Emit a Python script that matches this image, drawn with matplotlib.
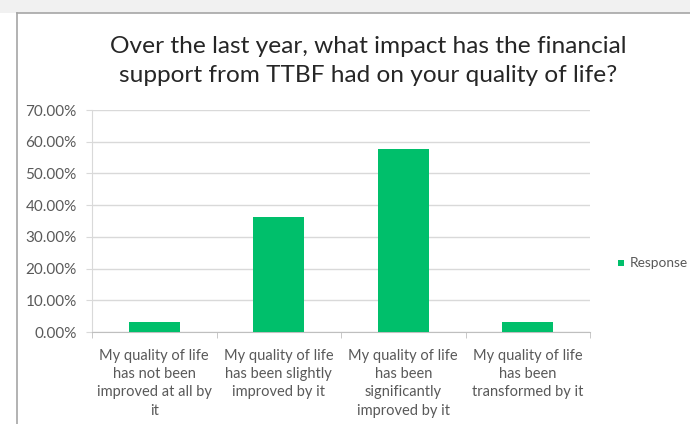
import numpy as np
import matplotlib.pyplot as plt
from matplotlib.patches import Rectangle
from matplotlib.lines import Line2D
from matplotlib.ticker import FuncFormatter, FixedLocator

plt.rcParams['font.family'] = ['Lato', 'DejaVu Sans']

# data
categories = [
    "My quality of life\nhas not been\nimproved at all by\nit",
    "My quality of life\nhas been slightly\nimproved by it",
    "My quality of life\nhas been\nsignificantly\nimproved by it",
    "My quality of life\nhas been\ntransformed by it",
]
responses = [3.03, 36.36, 57.58, 3.03]
series_name = "Response"
title = "Over the last year, what impact has the financial\nsupport from TTBF had on your quality of life?"

green = '#00bf6b'
text_col = '#595959'
grid_col = '#d9d9d9'

W, H = 690, 424
fig = plt.figure(figsize=(W / 100, H / 100), dpi=100)
fig.patch.set_facecolor('white')

# screenshot frame: grey strip on top, chart border
fig.add_artist(Rectangle((0, 1 - 13 / H), 1, 13 / H, transform=fig.transFigure,
                         facecolor='#f1f1f1', edgecolor='none'))
fig.add_artist(Line2D([17 / W, 1], [1 - 13 / H, 1 - 13 / H], transform=fig.transFigure,
                      color='#a6a6a6', lw=1.2))
fig.add_artist(Line2D([17 / W, 17 / W], [0, 1 - 13 / H], transform=fig.transFigure,
                      color='#a6a6a6', lw=1.2))

ax = fig.add_axes([92 / W, 1 - 332 / H, (590 - 92) / W, (332 - 110) / H])
x = np.arange(len(categories))
ax.bar(x, responses, width=0.41, color=green, zorder=3)

ax.set_xlim(-0.5, len(categories) - 0.5)
ax.set_ylim(0, 70)
ax.set_yticks(np.arange(0, 71, 10))
ax.yaxis.set_major_formatter(FuncFormatter(lambda v, p: f"{v:.2f}%"))
ax.grid(axis='y', color=grid_col, lw=1, zorder=0)

ax.set_xticks(x)
ax.set_xticklabels(categories, fontsize=10.5, color=text_col, linespacing=1.4)
ax.xaxis.set_minor_locator(FixedLocator(np.arange(-0.5, len(categories), 1)))
ax.tick_params(axis='x', which='major', length=0, pad=12)
ax.tick_params(axis='x', which='minor', length=4, color='#bfbfbf')
ax.tick_params(axis='y', length=4, color=grid_col, labelsize=11,
               labelcolor=text_col, pad=7)

for s in ['top', 'right']:
    ax.spines[s].set_visible(False)
ax.spines['left'].set_color(grid_col)
ax.spines['bottom'].set_color('#bfbfbf')

fig.text(368 / W, 1 - 61 / H, title, ha='center', va='center', fontsize=17.6,
         color='#262626', linespacing=1.45)

# legend
fig.add_artist(Rectangle((618 / W, 1 - 266 / H), 6 / W, 6 / H, transform=fig.transFigure,
                         facecolor=green, edgecolor='none'))
fig.text(630 / W, 1 - 263 / H, series_name, ha='left', va='center', fontsize=9.8,
         color=text_col)

fig.savefig('out.png', dpi=100)
